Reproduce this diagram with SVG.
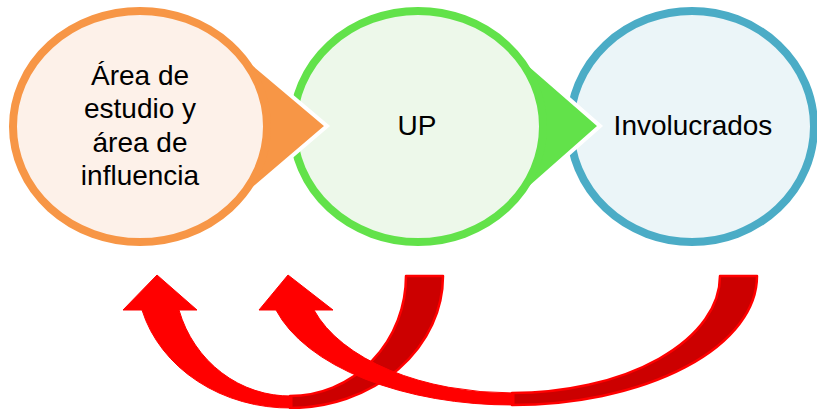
<svg xmlns="http://www.w3.org/2000/svg" width="817" height="409" viewBox="0 0 817 409">
<style>
  .lbl { font-family: "Liberation Sans", Arial, sans-serif; font-size: 28px; fill: #000; text-anchor: middle; }
  .ptr { stroke: #FFFFFF; stroke-width: 4; stroke-linejoin: miter; }
  .ring { stroke-width: 8; }
  .back { fill: #CC0000; stroke: #FF0000; stroke-width: 2.5; stroke-linejoin: round; }
  .front { fill: #FF0000; stroke: #FF0000; stroke-width: 1; stroke-linejoin: round; }
</style>
<rect width="817" height="409" fill="#FFFFFF"/>

<g id="node-involucrados">
  <ellipse cx="692" cy="126.5" rx="122" ry="115.5" fill="#EBF5F8" stroke="#4BACC6" class="ring"/>
  <text class="lbl" x="693" y="135">Involucrados</text>
</g>

<g id="node-up">
  <polygon class="ptr" points="506,44 600,126 506,209" fill="#62E24A"/>
  <ellipse cx="418" cy="126.5" rx="125" ry="115.5" fill="#EDF8EA" stroke="#62E24A" class="ring"/>
  <text class="lbl" x="417" y="135">UP</text>
</g>

<g id="node-area">
  <polygon class="ptr" points="230,44 327,126 230,209" fill="#F79646"/>
  <ellipse cx="140" cy="126.5" rx="127" ry="115.5" fill="#FDF1E9" stroke="#F79646" class="ring"/>
  <text class="lbl" x="140" y="85">Área de</text>
  <text class="lbl" x="140" y="118">estudio y</text>
  <text class="lbl" x="140" y="152">área de</text>
  <text class="lbl" x="140" y="185">influencia</text>
</g>

<g id="connectors">
  <g id="arrow-up-to-area">
    <path class="back" d="M 406,276 L 443,276 A 153 132 0 0 1 290 408 L 290 396 A 116 120 0 0 0 406 276 Z"/>
    <path class="front" d="M 142,310 L 123,310 L 157,275 L 197,310 L 179,310 A 116 121 0 0 0 292 396 L 292 408 A 153 133 0 0 1 142 310 Z"/>
  </g>
  <g id="arrow-involucrados-to-up">
    <path class="back" d="M 720,276 L 757,276 A 245 129 0 0 1 512 405 L 512 393 A 208 117 0 0 0 720 276 Z"/>
    <path class="front" d="M 276,310 L 259,310 L 288,275 L 333,310 L 314,310 A 208 118 0 0 0 514 393 L 514 405 A 245 130 0 0 1 276 310 Z"/>
  </g>
</g>
</svg>
